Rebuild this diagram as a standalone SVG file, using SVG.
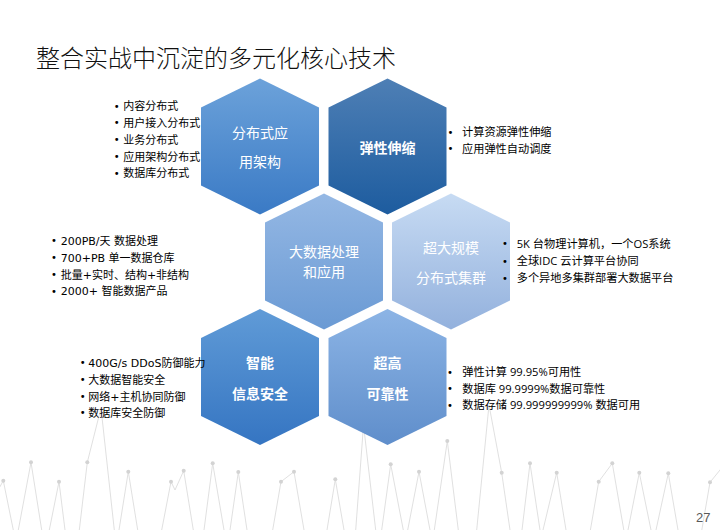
<svg xmlns="http://www.w3.org/2000/svg" xmlns:xlink="http://www.w3.org/1999/xlink" width="720" height="530" viewBox="0 0 720 530">
<style>
.title{font-family:"Noto Sans CJK SC","Liberation Sans",sans-serif;font-size:24px;font-weight:300;fill:#111;}
.hx{font-family:"Noto Sans CJK SC",sans-serif;font-size:14px;fill:#fff;text-anchor:middle;}
.hb{font-weight:600;}
.ll{font-family:"DejaVu Sans","Noto Sans CJK SC",sans-serif;font-size:11px;fill:#000;}
.rl{font-family:"Open Sans","Noto Sans CJK SC",sans-serif;font-size:11.2px;fill:#000;}
.bu{font-family:"DejaVu Sans",sans-serif;font-size:10px;fill:#000;text-anchor:middle;}
.bg{fill:none;stroke:#dcdcdc;stroke-width:0.9;}
.dot{fill:#d3d3d3;}
.pg{font-family:"Liberation Sans",sans-serif;font-size:13px;fill:#595959;text-anchor:end;}
</style>
<defs>
<polygon id="hex" points="0,-68 59,-39 59,39 0,68 -59,39 -59,-39"/>
<linearGradient id="g1" x1="0" y1="0" x2="0" y2="1"><stop offset="0" stop-color="#6ca2da"/><stop offset="1" stop-color="#3a7ac5"/></linearGradient>
<linearGradient id="g2" x1="0" y1="0" x2="0" y2="1"><stop offset="0" stop-color="#4e7fb5"/><stop offset="1" stop-color="#1d5c9f"/></linearGradient>
<linearGradient id="g3" x1="0" y1="0" x2="0" y2="1"><stop offset="0" stop-color="#95b8e4"/><stop offset="1" stop-color="#6a9ad4"/></linearGradient>
<linearGradient id="g4" x1="0" y1="0" x2="0" y2="1"><stop offset="0" stop-color="#c7dbf3"/><stop offset="1" stop-color="#93b1dd"/></linearGradient>
<linearGradient id="g5" x1="0" y1="0" x2="0" y2="1"><stop offset="0" stop-color="#609bd7"/><stop offset="1" stop-color="#3575c2"/></linearGradient>
<linearGradient id="g6" x1="0" y1="0" x2="0" y2="1"><stop offset="0" stop-color="#8cb4e5"/><stop offset="1" stop-color="#5f8ecb"/></linearGradient>
</defs>
<rect width="720" height="530" fill="#fff"/>
<g id="background">
<polyline class="bg" points="-3,492 3.3,480.7 13.3,530 15.8,545 18.3,530 31,462.3 41.7,530 45.5,550 49.3,530 59,481.7 65,530 72,560 79.3,530 87.3,462.3 101,408 114.3,530 116.7,545 119,530 128.3,471.7 137.7,530 150,560 161.7,530 171,481.7 175,490 183.7,470.7 193.3,530 198.5,550 204,530 212.7,463.3 224,530 227,545 230,530 238.3,472 247,530 260,560 272.7,530 281,481.7 294,471.7 304,530 315,560 327,530 335.3,479.3 344,530 350,550 355.7,530 363.5,425 375.7,530 378.7,545 381.7,530 390.7,464.3 403.3,530 405.5,545 407.7,530 419,471.7 430,530 432,545 434.3,530 447.3,441 458.3,530 467,560 476.7,530 489,405 501.7,472.7 510,530 516,550 522,530 530,463.3 540,530 541.5,540 543,530 556.7,472.7 566,530 578,560 590.4,530 598.7,481.7 612.3,463.3 623.8,530 626,545 628,530 639.3,472.7 651,530 653,545 656,530 668.3,473.3 678,530 690,560 701.8,530 710,482.3 720,470 726,462"/>
<circle class="dot" cx="3.3" cy="480.7" r="2"/>
<circle class="dot" cx="31" cy="462.3" r="2"/>
<circle class="dot" cx="59" cy="481.7" r="2"/>
<circle class="dot" cx="87.3" cy="462.3" r="2"/>
<circle class="dot" cx="128.3" cy="471.7" r="2"/>
<circle class="dot" cx="171" cy="481.7" r="2"/>
<circle class="dot" cx="183.7" cy="470.7" r="2"/>
<circle class="dot" cx="212.7" cy="463.3" r="2"/>
<circle class="dot" cx="238.3" cy="472" r="2"/>
<circle class="dot" cx="281" cy="481.7" r="2"/>
<circle class="dot" cx="294" cy="471.7" r="2"/>
<circle class="dot" cx="335.3" cy="479.3" r="2"/>
<circle class="dot" cx="390.7" cy="464.3" r="2"/>
<circle class="dot" cx="419" cy="471.7" r="2"/>
<circle class="dot" cx="447.3" cy="441" r="2"/>
<circle class="dot" cx="501.7" cy="472.7" r="2"/>
<circle class="dot" cx="530" cy="463.3" r="2"/>
<circle class="dot" cx="556.7" cy="472.7" r="2"/>
<circle class="dot" cx="598.7" cy="481.7" r="2"/>
<circle class="dot" cx="612.3" cy="463.3" r="2"/>
<circle class="dot" cx="639.3" cy="472.7" r="2"/>
<circle class="dot" cx="668.3" cy="473.3" r="2"/>
<circle class="dot" cx="710" cy="482.3" r="2"/>
</g>
<text class="title" x="36" y="67.4">整合实战中沉淀的多元化核心技术</text>
<g id="connectors"></g>
<g id="node-distributed" transform="translate(260,146.5)">
<use xlink:href="#hex" href="#hex" fill="url(#g1)"/>
<text class="hx" x="0" y="-8.9">分布式应</text>
<text class="hx" x="0" y="20.5">用架构</text>
</g>
<g id="node-elastic" transform="translate(387.5,146.5)">
<use xlink:href="#hex" href="#hex" fill="url(#g2)"/>
<text class="hx hb" x="0" y="6.5">弹性伸缩</text>
</g>
<g id="node-bigdata" transform="translate(324,261.5)">
<use xlink:href="#hex" href="#hex" fill="url(#g3)"/>
<text class="hx" x="0" y="-4.5">大数据处理</text>
<text class="hx" x="0" y="15.8">和应用</text>
</g>
<g id="node-cluster" transform="translate(451,261.5)">
<use xlink:href="#hex" href="#hex" fill="url(#g4)"/>
<text class="hx" x="0" y="-8.9">超大规模</text>
<text class="hx" x="0" y="21.1">分布式集群</text>
</g>
<g id="node-security" transform="translate(260,377)">
<use xlink:href="#hex" href="#hex" fill="url(#g5)"/>
<text class="hx hb" x="0" y="-9">智能</text>
<text class="hx hb" x="0" y="21.6">信息安全</text>
</g>
<g id="node-reliability" transform="translate(387.5,377)">
<use xlink:href="#hex" href="#hex" fill="url(#g6)"/>
<text class="hx hb" x="0" y="-9.4">超高</text>
<text class="hx hb" x="0" y="21.6">可靠性</text>
</g>
<g id="list-distributed">
<text class="bu" x="116.7" y="109.6">•</text><text class="ll" x="123.3" y="110.2">内容分布式</text>
<text class="bu" x="116.7" y="126.4">•</text><text class="ll" x="123.3" y="127">用户接入分布式</text>
<text class="bu" x="116.7" y="143.2">•</text><text class="ll" x="123.3" y="143.8">业务分布式</text>
<text class="bu" x="116.7" y="160">•</text><text class="ll" x="123.3" y="160.6">应用架构分布式</text>
<text class="bu" x="116.7" y="176.8">•</text><text class="ll" x="123.3" y="177.4">数据库分布式</text>
</g>
<g id="list-elastic">
<text class="bu" x="450.5" y="135.5">•</text><text class="rl" x="462" y="135.9">计算资源弹性伸缩</text>
<text class="bu" x="450.5" y="152.1">•</text><text class="rl" x="462" y="152.5">应用弹性自动调度</text>
</g>
<g id="list-bigdata">
<text class="bu" x="54" y="244.3">•</text><text class="ll" x="60.7" y="244.9">200PB/天 数据处理</text>
<text class="bu" x="54" y="261.3">•</text><text class="ll" x="60.7" y="261.9">700+PB 单一数据仓库</text>
<text class="bu" x="54" y="277.9">•</text><text class="ll" x="60.7" y="278.5">批量+实时、结构+非结构</text>
<text class="bu" x="54" y="294.6">•</text><text class="ll" x="60.7" y="295.2">2000+ 智能数据产品</text>
</g>
<g id="list-cluster">
<text class="bu" x="505" y="247.1">•</text><text class="rl" x="516.7" y="247.5">5K 台物理计算机，一个OS系统</text>
<text class="bu" x="505" y="264.5">•</text><text class="rl" x="516.7" y="264.9">全球IDC 云计算平台协同</text>
<text class="bu" x="505" y="281.5">•</text><text class="rl" x="516.7" y="281.9">多个异地多集群部署大数据平台</text>
</g>
<g id="list-security">
<text class="bu" x="82.7" y="366.3">•</text><text class="ll" x="88.3" y="366.9">400G/s DDoS防御能力</text>
<text class="bu" x="82.7" y="382.9">•</text><text class="ll" x="88.3" y="383.5">大数据智能安全</text>
<text class="bu" x="82.7" y="400.3">•</text><text class="ll" x="88.3" y="400.9">网络+主机协同防御</text>
<text class="bu" x="82.7" y="416.3">•</text><text class="ll" x="88.3" y="416.9">数据库安全防御</text>
</g>
<g id="list-reliability">
<text class="bu" x="450" y="375.5">•</text><text class="rl" x="462.3" y="375.9">弹性计算 99.95%可用性</text>
<text class="bu" x="450" y="392.1">•</text><text class="rl" x="462.3" y="392.5">数据库 99.9999%数据可靠性</text>
<text class="bu" x="450" y="408.8">•</text><text class="rl" x="462.3" y="409.2">数据存储 99.999999999% 数据可用</text>
</g>
<text class="pg" x="710.5" y="522">27</text>
</svg>
